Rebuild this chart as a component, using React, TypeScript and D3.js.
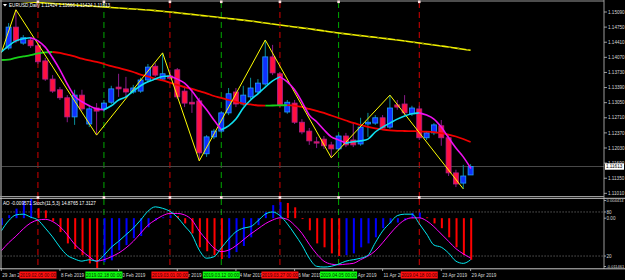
import React from "react";
import * as d3 from "d3";

// ---------- price bars (index 0 = 30 Jan 2019 ... 63 = 29 Apr 2019) ----------
const open = [
  1.1428, 1.1475, 1.1439, 1.1446, 1.1433, 1.1399, 1.1358, 1.1334,
  1.1316, 1.1273, 1.1322, 1.1257, 1.1293, 1.1291, 1.1306, 1.1340,
  1.1336, 1.1329, 1.1331, 1.1356, 1.1387, 1.1358, 1.1365, 1.1379,
  1.1331, 1.1306, 1.1309, 1.1190, 1.1228, 1.1241, 1.1282, 1.1329,
  1.1302, 1.1318, 1.1329, 1.1347, 1.1408, 1.1370, 1.1284, 1.1304,
  1.1261, 1.1241, 1.1217, 1.1223, 1.1210, 1.1201, 1.1230, 1.1221,
  1.1212, 1.1257, 1.1259, 1.1271, 1.1250, 1.1300, 1.1302, 1.1280,
  1.1291, 1.1226, 1.1237, 1.1253, 1.1226, 1.1147, 1.1124, 1.11424,
];
const high = [
  1.1484, 1.1514, 1.1457, 1.1453, 1.1437, 1.1406, 1.1367, 1.1340,
  1.1322, 1.1334, 1.1334, 1.1300, 1.1304, 1.1311, 1.1343, 1.1370,
  1.1363, 1.1345, 1.1361, 1.1392, 1.1394, 1.1417, 1.1379, 1.1383,
  1.1343, 1.1338, 1.1316, 1.1232, 1.1246, 1.1286, 1.1338, 1.1338,
  1.1343, 1.1361, 1.1358, 1.1446, 1.1435, 1.1374, 1.1311, 1.1311,
  1.1268, 1.1248, 1.1228, 1.1230, 1.1217, 1.1235, 1.1237, 1.1259,
  1.1271, 1.1282, 1.1277, 1.1277, 1.1322, 1.1311, 1.1322, 1.1298,
  1.1298, 1.1241, 1.1259, 1.1266, 1.1232, 1.1154, 1.1165, 1.11666,
];
const low = [
  1.1424, 1.1439, 1.1435, 1.1428, 1.1392, 1.1354, 1.1327, 1.1311,
  1.1261, 1.1255, 1.1286, 1.1250, 1.1232, 1.1284, 1.1302, 1.1318,
  1.1316, 1.1325, 1.1327, 1.1351, 1.1363, 1.1354, 1.1356, 1.1313,
  1.1295, 1.1282, 1.1174, 1.1183, 1.1223, 1.1237, 1.1277, 1.1295,
  1.1298, 1.1313, 1.1325, 1.1343, 1.1367, 1.1295, 1.1280, 1.1257,
  1.1234, 1.1210, 1.1203, 1.1201, 1.1181, 1.1196, 1.1205, 1.1205,
  1.1208, 1.1228, 1.1255, 1.1244, 1.1246, 1.1289, 1.1277, 1.1275,
  1.1221, 1.1221, 1.1232, 1.1208, 1.1140, 1.1115, 1.1111, 1.11424,
];
const close = [
  1.1475, 1.1444, 1.1451, 1.1433, 1.1397, 1.1358, 1.1331, 1.1316,
  1.1273, 1.1322, 1.1291, 1.1291, 1.1286, 1.1304, 1.1336, 1.1336,
  1.1329, 1.1338, 1.1356, 1.1385, 1.1367, 1.1370, 1.1360, 1.1318,
  1.1304, 1.1302, 1.1192, 1.1228, 1.1241, 1.1282, 1.1325, 1.1302,
  1.1322, 1.1338, 1.1349, 1.1408, 1.1372, 1.1300, 1.1306, 1.1261,
  1.1239, 1.1219, 1.1214, 1.1208, 1.1201, 1.1230, 1.1210, 1.1210,
  1.1250, 1.1261, 1.1271, 1.1248, 1.1293, 1.1295, 1.1282, 1.1293,
  1.1226, 1.1237, 1.1255, 1.1226, 1.1147, 1.1122, 1.1140, 1.11613,
];

// ---------- indicator series (first value = bar -1, 29 Jan 2019) ----------
const IND_START = -1;
const slowMA = [
  1.15356, 1.15347, 1.15338, 1.15326, 1.15315, 1.15304, 1.15293, 1.15281,
  1.1527, 1.15259, 1.15248, 1.15236, 1.15225, 1.15214, 1.15203, 1.15191,
  1.1518, 1.15169, 1.15158, 1.15146, 1.15135, 1.15122, 1.15106, 1.1509,
  1.15072, 1.15054, 1.15036, 1.15018, 1.15, 1.14982, 1.14962, 1.14944,
  1.14926, 1.14908, 1.14888, 1.14865, 1.14843, 1.1482, 1.14798, 1.14775,
  1.14753, 1.14732, 1.14712, 1.14687, 1.14665, 1.1464, 1.14618, 1.14597,
  1.14577, 1.14559, 1.14539, 1.14521, 1.14501, 1.1448, 1.1446, 1.14438,
  1.14415, 1.14393, 1.1437, 1.14348, 1.14325, 1.14303, 1.14278, 1.14253,
  1.14228,
];
const midMA = [
  1.1401, 1.1402, 1.1406, 1.1409, 1.1412, 1.1416, 1.1418, 1.1419,
  1.1417, 1.1413, 1.1409, 1.1404, 1.14, 1.1397, 1.1392, 1.1387,
  1.1383, 1.1379, 1.1374, 1.1368, 1.1364, 1.1359, 1.1355, 1.135,
  1.1345, 1.134, 1.1336, 1.1331, 1.1326, 1.132, 1.1316, 1.1311,
  1.1307, 1.1303, 1.1301, 1.12986, 1.12984, 1.12986, 1.1299, 1.12994,
  1.1298, 1.12953, 1.12908, 1.12863, 1.12818, 1.12761, 1.12705, 1.12649,
  1.12593, 1.12548, 1.12503, 1.12469, 1.12446, 1.12428, 1.12417, 1.12413,
  1.1241, 1.12406, 1.12399, 1.12386, 1.12363, 1.12332, 1.12289, 1.12233,
  1.12165,
];
const fastMA = [
  1.1419, 1.1433, 1.1444, 1.1449, 1.1451, 1.1444, 1.143, 1.1406,
  1.1379, 1.1347, 1.132, 1.1307, 1.1298, 1.1291, 1.1289, 1.1298,
  1.1311, 1.1318, 1.1331, 1.1343, 1.1352, 1.1358, 1.1364, 1.1365,
  1.1358, 1.1349, 1.1331, 1.1309, 1.1289, 1.1266, 1.1244, 1.1253,
  1.1268, 1.1293, 1.1311, 1.1325, 1.134, 1.1354, 1.1363, 1.1352,
  1.1334, 1.1307, 1.1277, 1.1262, 1.1244, 1.1228, 1.1221, 1.1214,
  1.1217, 1.1219, 1.1223, 1.1239, 1.125, 1.1259, 1.1268, 1.1275,
  1.128, 1.1282, 1.1277, 1.1268, 1.125, 1.1226, 1.1203, 1.1183,
  1.1158,
];
const zigzagBars = [-1, 1, 12, 21, 26, 35, 44, 52, 62];
const zigzagPrices = [1.1417, 1.1514, 1.1232, 1.1417, 1.1174, 1.1446, 1.1181, 1.1322, 1.1111];

const ao = [
  -0.0016, 0.0007, 0.0022, 0.004, 0.004414, 0.0023, 0.0018, -0.0007,
  -0.0032, -0.0058, -0.0071, -0.0085, -0.0104, -0.011461, -0.0101, -0.0097,
  -0.0074, -0.0062, -0.0046, -0.0041, -0.0021, -0.0005, 0.0002, 0.0007,
  0.0005, -0.0012, -0.0035, -0.0067, -0.0076, -0.0085, -0.0094, -0.0092,
  -0.0078, -0.0064, -0.0044, -0.0016, 0.0014, 0.003, 0.0037, 0.0035,
  0.0025, -0.0002, -0.0028, -0.0058, -0.0067, -0.0081, -0.0087, -0.0085,
  -0.0081, -0.0067, -0.0058, -0.0044, -0.0023, -0.0012, -0.001, -0.0005,
  0.0012, 0.0013, 0.0002, -0.0012, -0.0023, -0.0044, -0.0067, -0.0085,
  -0.009571,
];
const stochK = [
  54, 68, 76, 77, 73, 69, 58, 46, 32, 21, 16, 13, 15, 13, 21, 32,
  40, 49, 58, 69, 81, 87, 85, 81, 73, 61, 49, 28, 17, 19, 31, 43,
  53, 58, 60, 68, 77, 80, 75, 64, 50, 35, 17, 6, 5, 6, 9, 13,
  15, 17, 21, 38, 54, 65, 75, 77, 77, 64, 50, 35, 32, 24, 13, 10,
  14.8765,
];
const stochD = [
  27, 38, 47, 57, 65, 69, 70, 67, 60, 49, 36, 27, 19, 13, 15, 19,
  24, 31, 40, 51, 62, 69, 75, 78, 78, 76, 69, 54, 42, 31, 26, 28,
  34, 42, 50, 57, 64, 69, 72, 70, 62, 51, 36, 23, 13, 9, 8, 9,
  10, 15, 20, 27, 38, 50, 61, 69, 72, 72, 68, 60, 50, 40, 30, 23,
  17.3127,
];

// ---------- axis labels / markers ----------
const priceTicks = [1.1509, 1.1475, 1.1441, 1.1407, 1.1373, 1.1339, 1.1305, 1.1271, 1.1237, 1.1203, 1.1169, 1.1135, 1.1101];
const timeLabelBars = [-1, 7, 15, 23, 31, 39, 47, 51, 59, 63];
const timeLabelTexts = ["29 Jan 2019", "8 Feb 2019", "20 Feb 2019", "4 Mar 2019", "14 Mar 2019", "26 Mar 2019", "5 Apr 2019", "11 Apr 2019", "23 Apr 2019", "29 Apr 2019"];
const vLineBars = [4, 13, 22, 29, 37, 45, 56];
const vLineKinds = ["red", "green", "red", "green", "red", "green", "red"];
const vLineTexts = ["2019.02.05 00:00", "2019.02.18 00:00", "2019.03.01 00:00", "2019.03.12 00:00", "2019.03.27 00:00", "2019.04.05 00:00", "2019.04.18 00:00"];

const FONT = "'Liberation Sans', Arial, sans-serif";

type Run = { color: string; pts: [number, number][] };
function colorRuns(vals: number[], start: number, up: string, down: string): Run[] {
  const runs: Run[] = [];
  let cur: Run | null = null;
  for (let k = 0; k < vals.length - 1; k++) {
    const c = vals[k + 1] >= vals[k] ? up : down;
    if (!cur || cur.color !== c) {
      cur = { color: c, pts: [[start + k, vals[k]]] };
      runs.push(cur);
    }
    cur.pts.push([start + k + 1, vals[k + 1]]);
  }
  return runs;
}

export default function App() {
  const W = 625;
  const H = 280;
  const plotR = 604;
  const mainTop = 2;
  const mainBot = 196;
  const subTop = 199;
  const subBot = 268;

  const x = d3.scaleLinear().domain([0, 63]).range([8.6, 470.6]);
  const yP = d3.scaleLinear().domain([1.1101, 1.1509]).range([193.33, 12]);
  const yAO = d3.scaleLinear().domain([-0.011461, 0.004414]).range([subBot, subTop]);
  const yST = d3.scaleLinear().domain([0, 100]).range([270.7, 197.3]);

  const priceLine = d3
    .line<[number, number]>()
    .x((d) => x(d[0]))
    .y((d) => yP(d[1]))
    .curve(d3.curveMonotoneX);
  const zzLine = d3
    .line<number>()
    .x((_, k) => x(zigzagBars[k]))
    .y((d) => yP(d));
  const stLine = d3
    .line<number>()
    .x((_, k) => x(IND_START + k))
    .y((d) => yST(d))
    .curve(d3.curveMonotoneX);

  const midRuns = colorRuns(midMA, IND_START, "#19d219", "#f00000");
  const fastRuns = colorRuns(fastMA, IND_START, "#10e0f0", "#f010f0");
  const slowPts: [number, number][] = slowMA.map((v, k) => [IND_START + k, v]);

  const lastClose = close[close.length - 1];
  const yc = yP(lastClose);

  const lineCol = (k: string) => (k === "red" ? "#d40000" : "#00a800");
  const boxCol = (k: string) => (k === "red" ? "#ff1010" : "#10ff10");
  const boxText = (k: string) => (k === "red" ? "#400000" : "#003000");

  const subLabels = [
    { y: subTop + 1.5, t: "0.004414", fs: 4.1 },
    { y: yST(80), t: "80", fs: 4.6 },
    { y: yAO(0), t: "0.00", fs: 4.6 },
    { y: yST(20), t: "20", fs: 4.6 },
    { y: subBot - 1.5, t: "-0.011461", fs: 4.0 },
  ];

  return (
    <svg width={W} height={H} viewBox={`0 0 ${W} ${H}`} style={{ display: "block", position: "absolute", left: 0, top: 0 }} fontFamily={FONT}>
      <defs>
        <clipPath id="mainClip">
          <rect x={1.5} y={mainTop} width={plotR - 1.5} height={mainBot - mainTop} />
        </clipPath>
        <clipPath id="subClip">
          <rect x={1.5} y={subTop} width={plotR - 1.5} height={subBot - subTop} />
        </clipPath>
      </defs>
      <rect x={0} y={0} width={W} height={H} fill="#000" />

      {/* vertical event lines */}
      {vLineBars.map((b, k) => (
        <g key={"vl" + k}>
          <line x1={x(b)} x2={x(b)} y1={mainTop} y2={mainBot} stroke={lineCol(vLineKinds[k])} strokeWidth={1} strokeDasharray="6 4" />
          <line x1={x(b)} x2={x(b)} y1={subTop} y2={subBot + 1} stroke={lineCol(vLineKinds[k])} strokeWidth={1} strokeDasharray="6 4" />
        </g>
      ))}

      {/* main window */}
      <g clipPath="url(#mainClip)">
        <path d={priceLine(slowPts) || ""} fill="none" stroke="#f0f000" strokeWidth={1.6} />
        <path d={priceLine(slowPts) || ""} fill="none" stroke="#8a8a00" strokeWidth={1.6} strokeDasharray="2 7" />
        <line x1={1.5} x2={plotR} y1={yc} y2={yc} stroke="#4a4a4a" strokeWidth={1} />
        {open.map((o, i) => {
          const c = close[i];
          const bull = c >= o;
          const cx = x(i);
          const top = yP(Math.max(o, c));
          const bot = yP(Math.min(o, c));
          return (
            <g key={"c" + i}>
              <line x1={cx} x2={cx} y1={yP(high[i])} y2={yP(low[i])} stroke={bull ? "#0a8f9a" : "#8a1a8a"} strokeWidth={1} />
              <rect
                x={cx - 2.5}
                y={top}
                width={5}
                height={Math.max(1, bot - top)}
                fill={bull ? "#1030ff" : "#ff1040"}
                stroke={bull ? "#20a0ff" : "#b0208a"}
                strokeWidth={0.8}
              />
            </g>
          );
        })}
        {midRuns.map((r, k) => (
          <path key={"m" + k} d={priceLine(r.pts) || ""} fill="none" stroke={r.color} strokeWidth={1.8} />
        ))}
        <path d={zzLine(zigzagPrices) || ""} fill="none" stroke="#ffff00" strokeWidth={1} />
        {fastRuns.map((r, k) => (
          <path key={"f" + k} d={priceLine(r.pts) || ""} fill="none" stroke={r.color} strokeWidth={1.6} strokeLinecap="round" />
        ))}
      </g>

      {/* sub window */}
      <g clipPath="url(#subClip)">
        <line x1={1.5} x2={plotR} y1={yST(80)} y2={yST(80)} stroke="#8c8c8c" strokeWidth={0.8} strokeDasharray="1.2 1.8" />
        <line x1={1.5} x2={plotR} y1={yST(20)} y2={yST(20)} stroke="#8c8c8c" strokeWidth={0.8} strokeDasharray="1.2 1.8" />
        {ao.map((v, k) => {
          const up = k === 0 ? true : v > ao[k - 1];
          const bx = x(IND_START + k) + 0.6;
          const y0 = yAO(0);
          const y1 = yAO(v);
          return (
            <rect key={"ao" + k} x={bx - 1} y={Math.min(y0, y1)} width={2} height={Math.max(0.8, Math.abs(y1 - y0))} fill={up ? "#0000ff" : "#ff0000"} />
          );
        })}
        <path d={stLine(stochD) || ""} fill="none" stroke="#ff00ff" strokeWidth={1} />
        <path d={stLine(stochK) || ""} fill="none" stroke="#00e8f0" strokeWidth={1} />
      </g>

      {/* frames */}
      <line x1={1} x2={1} y1={0} y2={subBot + 1} stroke="#c8c8c8" strokeWidth={1} />
      <line x1={0} x2={plotR} y1={1} y2={1} stroke="#9a9a9a" strokeWidth={1} />
      <line x1={plotR} x2={plotR} y1={0} y2={subBot + 1} stroke="#9a9a9a" strokeWidth={1} />
      <line x1={0} x2={plotR} y1={196.5} y2={196.5} stroke="#9a9a9a" strokeWidth={1} />
      <line x1={0} x2={W} y1={198.3} y2={198.3} stroke="#c8c8c8" strokeWidth={1} />
      <line x1={0} x2={W} y1={subBot + 0.8} y2={subBot + 0.8} stroke="#c8c8c8" strokeWidth={1} />

      {vLineBars.map((b, k) => (
        <g key={"mk" + k}>
          <rect x={x(b) - 1.3} y={0.5} width={2.6} height={2.6} fill="#ffe0e0" />
          <rect x={x(b) - 1.3} y={196.2} width={2.6} height={2.6} fill="#ffe0e0" />
        </g>
      ))}

      {/* price axis */}
      {priceTicks.map((p, k) => (
        <g key={"pt" + k}>
          <line x1={plotR} x2={plotR + 3} y1={yP(p)} y2={yP(p)} stroke="#c0c0c0" strokeWidth={0.8} />
          <text x={plotR + 4} y={yP(p) + 1.7} fontSize={4.6} fill="#d8d8d8">
            {p.toFixed(5)}
          </text>
        </g>
      ))}
      <rect x={plotR + 1} y={yc - 3.2} width={19} height={6.4} fill="#ffffff" />
      <text x={plotR + 2} y={yc + 1.7} fontSize={4.6} fill="#000">
        {lastClose.toFixed(5)}
      </text>

      {/* sub-window axis */}
      {subLabels.map((d, k) => (
        <g key={"sl" + k}>
          <line x1={plotR} x2={plotR + 2} y1={d.y} y2={d.y} stroke="#c0c0c0" strokeWidth={0.8} />
          <text x={plotR + 2.5} y={d.y + 1.6} fontSize={d.fs} fill="#d8d8d8">
            {d.t}
          </text>
        </g>
      ))}

      {/* time axis */}
      {timeLabelBars.map((b, k) => (
        <g key={"tl" + k}>
          <line x1={x(b)} x2={x(b)} y1={subBot + 1} y2={subBot + 3} stroke="#c0c0c0" strokeWidth={0.8} />
          <text x={x(b) + 1} y={277} fontSize={4.6} fill="#d8d8d8">
            {timeLabelTexts[k]}
          </text>
        </g>
      ))}
      {vLineBars.map((b, k) => (
        <g key={"vb" + k}>
          <rect x={x(b) - 18.5} y={271.5} width={37} height={7} fill={boxCol(vLineKinds[k])} />
          <text x={x(b)} y={277} fontSize={4.6} fill={boxText(vLineKinds[k])} textAnchor="middle">
            {vLineTexts[k]}
          </text>
        </g>
      ))}

      {/* headers */}
      <path d="M3,4 L7,4 L5,6.5 Z" fill="#ffffff" />
      <text x={9} y={7.2} fontSize={4.6} fill="#ffffff">
        {`EURUSD,Daily  ${open[63].toFixed(5)} ${high[63].toFixed(5)} ${low[63].toFixed(5)} ${close[63].toFixed(5)}`}
      </text>
      <text x={3} y={204.5} fontSize={4.6} fill="#ffffff">
        {`AO ${ao[ao.length - 1].toFixed(6)}  Stoch(11,5,3) ${stochK[stochK.length - 1].toFixed(4)} ${stochD[stochD.length - 1].toFixed(4)}`}
      </text>
    </svg>
  );
}
